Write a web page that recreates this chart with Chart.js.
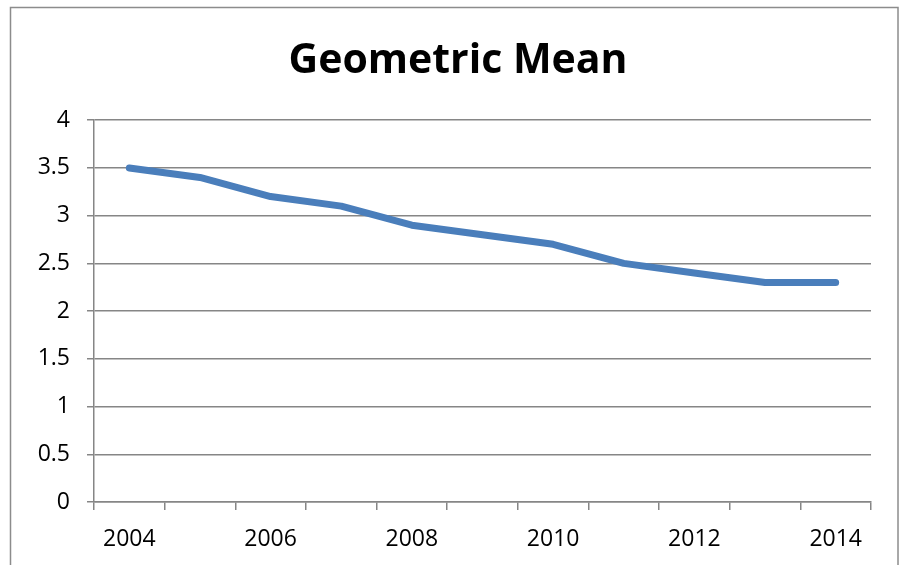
<!DOCTYPE html>
<html>
<head>
<meta charset="utf-8">
<style>
  html, body { margin: 0; padding: 0; background: #ffffff; }
  #wrap { width: 907px; height: 565px; position: relative; }
</style>
<script src="https://cdn.jsdelivr.net/npm/chart.js@4.4.1/dist/chart.umd.min.js"></script>
</head>
<body>
<div id="wrap"><canvas id="chart" width="907" height="565"></canvas></div>
<script>
// Years on the category axis
const years = ['2004', '2005', '2006', '2007', '2008', '2009', '2010', '2011', '2012', '2013', '2014'];
// Geometric mean per year
const geometricMean = [3.5, 3.4, 3.2, 3.1, 2.9, 2.8, 2.7, 2.5, 2.4, 2.3, 2.3];
// Value axis range and step
const yMin = 0;
const yMax = 4;
const yStep = 0.5;

const GRID = '#868686';
const FONT = '"Open Sans", "Liberation Sans", sans-serif';

// White page with a thin grey frame around the chart object
const framePlugin = {
  id: 'frame',
  beforeDraw(chart) {
    const ctx = chart.ctx;
    ctx.save();
    ctx.fillStyle = '#ffffff';
    ctx.fillRect(0, 0, chart.width, chart.height);
    ctx.strokeStyle = '#8c8c8c';
    ctx.lineWidth = 1.5;
    ctx.strokeRect(10.5, 7.5, 887.5, 570);
    ctx.restore();
  }
};

new Chart(document.getElementById('chart'), {
  type: 'line',
  data: {
    labels: years,
    datasets: [{
      label: 'Geometric Mean',
      data: geometricMean,
      borderColor: '#4a7ebb',
      backgroundColor: '#4a7ebb',
      borderWidth: 7,
      borderCapStyle: 'round',
      borderJoinStyle: 'round',
      pointRadius: 0,
      pointHoverRadius: 0,
      tension: 0,
      fill: false,
      yAxisID: 'y'
    }]
  },
  options: {
    responsive: false,
    animation: false,
    devicePixelRatio: 1,
    layout: { padding: { left: 9, right: 0, top: 0, bottom: 0 } },
    plugins: {
      legend: { display: false },
      tooltip: { enabled: false },
      title: {
        display: true,
        text: 'Geometric Mean',
        color: '#000000',
        font: { family: FONT, size: 41, weight: 'bold', lineHeight: 1.2 },
        padding: { top: 37, bottom: 34 }
      }
    },
    scales: {
      x: {
        type: 'category',
        offset: true,
        afterFit(scale) { scale.height = 63; },
        grid: {
          offset: true,
          drawOnChartArea: false,
          drawTicks: true,
          tickLength: 8,
          color: GRID,
          lineWidth: 1.5
        },
        border: { display: true, color: GRID, width: 1.5 },
        ticks: {
          autoSkip: false,
          maxRotation: 0,
          minRotation: 0,
          padding: 16,
          color: '#000000',
          font: { family: FONT, size: 23 },
          callback(value, index) {
            return index % 2 === 0 ? years[index] : '';
          }
        }
      },
      y: {
        position: 'left',
        min: yMin,
        max: yMax,
        afterFit(scale) { scale.width = 85; },
        grid: {
          drawOnChartArea: true,
          drawTicks: true,
          tickLength: 7,
          color: GRID,
          lineWidth: 1.5
        },
        border: { display: true, color: GRID, width: 1.5 },
        ticks: {
          stepSize: yStep,
          padding: 17,
          color: '#000000',
          font: { family: FONT, size: 23 },
          callback(value) { return String(value); }
        }
      },
      // Empty right-hand gutter between the plot and the frame
      gutter: {
        type: 'linear',
        position: 'right',
        display: true,
        min: yMin,
        max: yMax,
        afterFit(scale) { scale.width = 36; },
        grid: { display: false, drawTicks: false },
        border: { display: false },
        ticks: { display: false }
      }
    }
  },
  plugins: [framePlugin]
});
</script>
</body>
</html>
